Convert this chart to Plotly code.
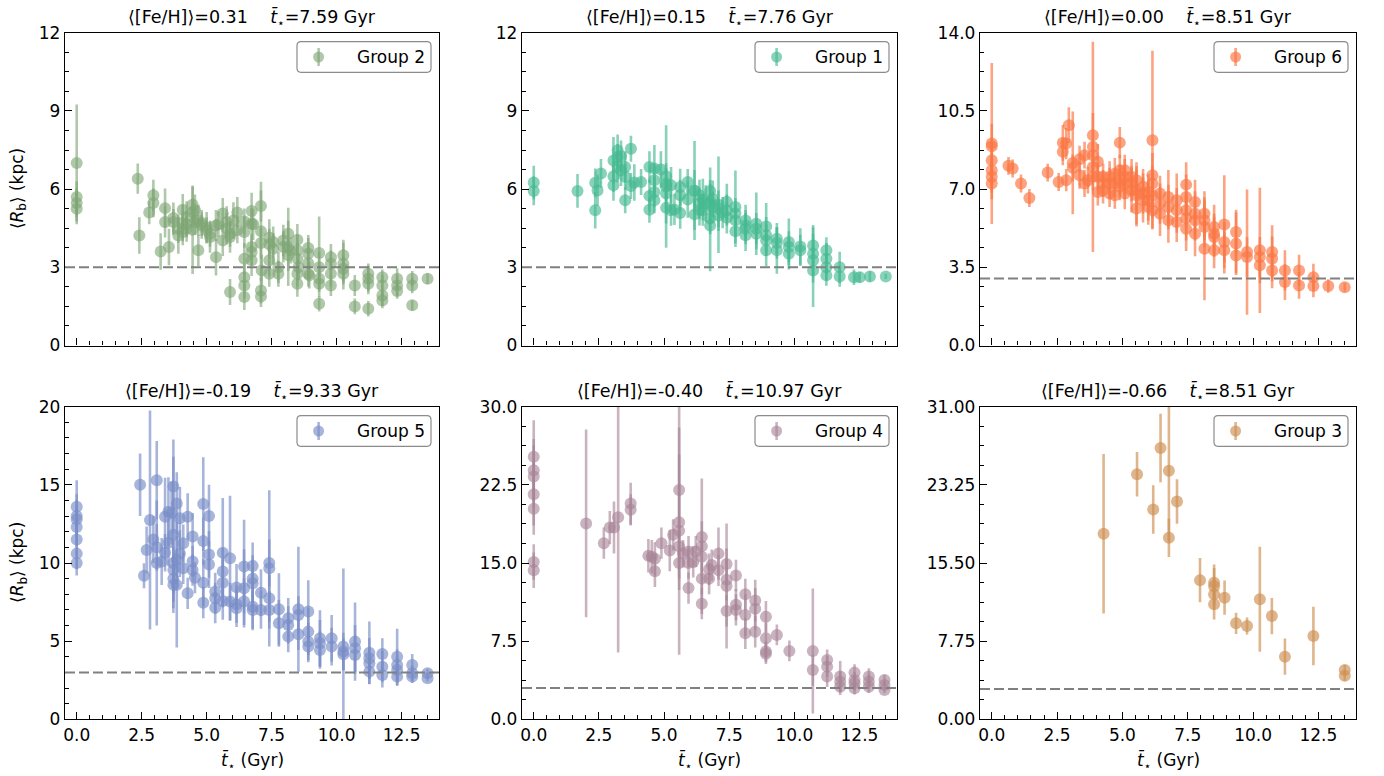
import plotly.graph_objects as go

# ---------------- data: mean age (Gyr), <R_b> (kpc), uncertainty ----------------
g2_t = [0.00, 0.00, 0.00, 0.00, 2.35, 2.41, 2.79, 2.95, 2.95, 3.23, 3.40, 3.40, 3.55, 3.72, 3.72,
        3.91, 3.91, 4.08, 4.08, 4.08, 4.23, 4.23, 4.23, 4.46, 4.46, 4.46, 4.55, 4.55, 4.68, 4.68,
        4.81, 4.81, 5.00, 5.00, 5.13, 5.13, 5.36, 5.36, 5.45, 5.62, 5.62, 5.77, 5.77, 5.90, 5.90,
        5.90, 6.03, 6.18, 6.18, 6.45, 6.45, 6.45, 6.45, 6.45, 6.45, 6.73, 6.73, 6.73, 6.73, 6.73,
        6.79, 7.09, 7.09, 7.09, 7.09, 7.09, 7.12, 7.41, 7.41, 7.41, 7.41, 7.56, 7.56, 7.76, 7.76,
        7.95, 7.95, 8.14, 8.14, 8.14, 8.23, 8.49, 8.49, 8.49, 8.49, 8.49, 8.54, 8.91, 8.91, 8.91,
        8.91, 8.95, 9.33, 9.33, 9.33, 9.33, 9.33, 9.78, 9.78, 9.78, 9.78, 10.26, 10.26, 10.26, 10.26,
        10.70, 10.70, 11.22, 11.22, 11.22, 11.22, 11.76, 11.76, 11.76, 11.76, 12.33, 12.33, 12.33,
        12.91, 12.91, 12.91, 13.50]
g2_r = [7.00, 5.70, 5.47, 5.25, 6.40, 4.22, 5.10, 5.76, 5.47, 3.61, 5.27, 4.74, 3.78, 4.89, 4.74,
        4.22, 4.48, 5.21, 4.35, 4.70, 4.93, 4.48, 4.65, 5.40, 4.44, 5.12, 4.74, 5.19, 3.65, 4.80,
        4.70, 4.60, 4.42, 4.52, 4.16, 4.29, 3.39, 4.60, 4.65, 5.06, 4.03, 4.74, 4.48, 2.05, 4.16,
        4.29, 4.80, 5.10, 4.42, 4.76, 4.35, 3.33, 2.62, 2.30, 1.86, 5.16, 4.67, 3.78, 3.59, 3.27,
        4.65, 4.38, 5.35, 3.93, 2.11, 1.88, 2.88, 4.14, 3.88, 3.27, 2.75, 3.97, 3.71, 3.00, 2.75,
        3.78, 4.03, 4.29, 3.78, 3.46, 3.65, 4.06, 3.65, 3.33, 2.75, 2.37, 3.00, 3.74, 3.52, 3.16,
        2.75, 2.69, 3.55, 3.00, 2.56, 2.37, 1.60, 3.39, 3.14, 2.75, 2.30, 3.46, 3.14, 2.94, 2.75,
        2.30, 1.50, 2.75, 2.56, 2.37, 1.41, 2.62, 2.30, 1.92, 1.73, 2.56, 2.30, 2.09,
        2.56, 2.30, 1.54, 2.56]
g2_err = [2.25, 0.60, 0.55, 0.60, 0.58, 0.70, 0.45, 0.60, 0.55, 0.70, 0.75, 0.60, 0.70, 0.60, 0.50,
          0.70, 0.55, 0.60, 0.50, 0.70, 0.60, 0.50, 0.50, 0.70, 1.70, 0.50, 0.50, 0.60, 0.60, 0.60,
          0.50, 0.50, 0.50, 0.60, 0.60, 0.50, 0.70, 0.60, 0.50, 0.60, 0.60, 0.60, 0.60, 0.50, 0.60,
          0.50, 0.70, 0.60, 0.50, 0.50, 0.60, 0.60, 0.50, 0.50, 0.50, 0.70, 0.60, 0.50, 0.50, 0.60,
          0.60, 1.90, 0.60, 0.60, 0.50, 0.40, 0.60, 0.70, 0.60, 0.60, 0.50, 0.60, 0.60, 0.60, 0.50,
          0.60, 0.60, 0.50, 1.50, 0.60, 0.50, 0.60, 0.60, 0.60, 0.50, 0.50, 0.50, 0.50, 0.60, 0.60,
          0.50, 0.50, 1.40, 0.60, 0.50, 0.50, 0.30, 0.50, 0.50, 0.50, 0.40, 0.60, 0.80, 0.50, 0.60,
          0.40, 0.30, 0.40, 0.50, 0.40, 0.30, 0.30, 0.40, 0.40, 0.30, 0.40, 0.40, 0.30,
          0.30, 0.30, 0.20, 0.20]

g1_t = [0.00, 0.00, 1.68, 2.36, 2.36, 2.45, 2.58, 3.06, 3.06, 3.06, 3.22, 3.22, 3.22, 3.35, 3.35,
        3.51, 3.51, 3.51, 3.73, 3.73, 3.86, 4.12, 4.44, 4.44, 4.44, 4.63, 4.63, 4.63, 4.63, 4.88,
        5.08, 5.08, 5.08, 5.08, 5.08, 5.27, 5.27, 5.40, 5.62, 5.62, 5.62, 5.91, 6.17, 6.17, 6.17,
        6.36, 6.36, 6.49, 6.49, 6.77, 6.77, 6.77, 6.77, 6.87, 6.87, 7.09, 7.09, 7.41, 7.41, 7.74,
        7.74, 7.74, 7.74, 8.13, 8.13, 8.13, 8.54, 8.54, 8.54, 8.92, 8.92, 8.92, 8.92, 9.33, 9.33,
        9.33, 9.79, 9.79, 9.79, 10.23, 10.23, 10.72, 10.72, 10.72, 10.72, 11.23, 11.23, 11.23, 11.23,
        11.74, 11.74, 12.29, 12.51, 12.90, 13.51,
        5.91, 6.36, 6.60, 7.09, 7.25, 7.41, 8.13]
g1_r = [6.25, 5.93, 5.93, 6.24, 5.19, 5.95, 6.60, 7.10, 6.49, 6.15, 7.49, 6.85, 7.23, 7.26, 6.72,
        6.85, 6.47, 5.57, 7.55, 6.12, 6.25, 6.27, 6.85, 5.74, 5.21, 6.79, 6.34, 5.89, 5.57, 6.75,
        6.49, 6.21, 5.83, 6.10, 5.28, 6.15, 5.19, 5.22, 6.08, 5.76, 5.08, 6.27, 5.93, 5.95, 5.03,
        5.76, 5.44, 5.60, 5.19, 5.93, 5.51, 4.87, 4.60, 5.63, 5.31, 5.40, 4.99, 5.51, 5.19, 5.31,
        5.06, 4.80, 4.38, 4.80, 4.48, 4.23, 4.67, 4.48, 4.29, 4.57, 4.23, 4.03, 3.65, 4.10, 3.93,
        3.65, 3.97, 3.78, 3.52, 3.80, 3.65, 3.84, 3.52, 3.27, 2.88, 3.65, 3.33, 3.00, 2.69,
        3.00, 2.65, 2.62, 2.62, 2.65, 2.65,
        5.60, 5.20, 5.45, 5.25, 5.10, 4.90, 4.60]
g1_err = [0.65, 0.55, 0.65, 0.55, 0.70, 0.60, 0.55, 0.90, 0.60, 0.60, 0.60, 0.60, 0.50, 0.60, 0.60,
          0.60, 0.50, 0.50, 0.50, 0.50, 0.70, 0.50, 0.60, 0.60, 0.50, 0.90, 0.60, 0.60, 0.50, 0.70,
          0.50, 0.60, 0.60, 2.35, 0.60, 0.70, 0.60, 0.60, 0.70, 0.60, 0.60, 0.50, 0.80, 1.90, 0.60,
          0.60, 0.60, 0.80, 0.60, 0.90, 0.70, 0.60, 1.75, 0.70, 0.60, 1.85, 0.60, 0.70, 0.60, 1.40,
          0.60, 0.60, 0.60, 0.60, 0.60, 0.60, 1.20, 0.60, 0.60, 0.90, 0.70, 0.60, 0.60, 0.60, 0.60,
          0.90, 0.90, 0.60, 0.60, 0.70, 0.60, 0.70, 1.10, 0.60, 1.40, 0.50, 0.60, 0.50, 0.40,
          0.60, 0.40, 0.30, 0.20, 0.20, 0.10,
          0.70, 0.60, 0.70, 0.70, 0.60, 0.60, 0.60]

g6_t = [0.00, 0.00, 0.00, 0.00, 0.00, 0.00, 0.64, 0.80, 1.12, 1.44, 2.14, 2.56, 2.72, 2.72, 2.85,
        2.85, 2.95, 3.10, 3.10, 3.36, 3.36, 3.55, 3.55, 3.68, 3.87, 3.87, 3.87, 3.87, 3.87, 4.06,
        4.06, 4.26, 4.26, 4.51, 4.51, 4.71, 4.71, 4.90, 4.90, 4.90, 5.09, 5.09, 5.09, 5.35, 5.35,
        5.54, 5.54, 5.54, 5.79, 5.79, 5.99, 5.99, 6.15, 6.15, 6.15, 6.15, 6.44, 6.44, 6.76, 6.76,
        7.08, 7.08, 7.44, 7.44, 7.44, 7.44, 7.78, 7.78, 7.78, 8.14, 8.14, 8.14, 8.51, 8.51, 8.51,
        8.90, 8.90, 8.90, 9.35, 9.35, 9.35, 9.77, 9.77, 10.26, 10.26, 10.26, 10.73, 10.73, 10.73,
        11.22, 11.22, 11.76, 11.76, 12.31, 12.31, 12.88, 13.51,
        4.06, 4.26, 4.51, 4.71, 4.90, 5.09, 5.35, 5.54, 5.79, 5.99, 6.15, 6.44, 6.76, 7.08,
        7.44, 7.78, 8.14, 8.51]
g6_r = [9.04, 8.92, 8.29, 7.84, 7.55, 7.25, 8.04, 7.92, 7.25, 6.60, 7.74, 7.32, 9.07, 8.67, 9.04,
        7.40, 9.86, 8.17, 7.95, 8.34, 7.62, 8.52, 7.25, 7.40, 9.41, 8.89, 8.52, 7.99, 7.55, 8.22,
        6.87, 7.55, 6.95, 7.55, 6.80, 7.69, 6.72, 9.08, 7.84, 7.10, 7.84, 7.25, 6.80, 7.55, 6.95,
        7.40, 6.72, 6.13, 7.10, 6.50, 6.87, 6.20, 9.19, 7.62, 7.25, 6.05, 6.80, 5.90, 6.65, 5.60,
        6.50, 5.53, 7.20, 6.65, 6.05, 5.23, 6.42, 5.60, 5.00, 5.90, 5.30, 4.33, 5.30, 4.86, 4.26,
        5.42, 4.63, 4.26, 5.08, 4.56, 4.03, 4.18, 3.96, 4.26, 3.96, 3.59, 4.18, 3.88, 3.36,
        3.36, 2.84, 3.36, 2.69, 3.06, 2.66, 2.66, 2.61,
        7.55, 7.25, 7.25, 7.25, 7.40, 7.55, 7.25, 6.95, 6.80, 6.50, 6.72, 6.35, 6.20, 6.05,
        5.70, 5.90, 5.60, 5.00]
g6_err = [3.60, 1.00, 0.80, 0.70, 0.70, 0.70, 0.40, 0.40, 0.40, 0.40, 0.40, 0.40, 0.80, 0.60, 0.70,
          0.50, 0.80, 2.30, 0.60, 0.60, 0.60, 0.60, 0.60, 0.60, 1.00, 4.70, 0.60, 0.70, 0.60, 0.80,
          0.60, 0.60, 0.60, 0.70, 0.60, 0.70, 0.60, 0.70, 0.70, 0.60, 0.70, 0.70, 0.70, 0.80, 1.00,
          0.80, 1.30, 0.80, 0.80, 1.00, 0.80, 0.80, 4.00, 1.00, 0.80, 0.80, 0.80, 1.00, 1.20, 1.00,
          1.20, 0.90, 1.00, 1.00, 0.80, 1.00, 1.00, 0.90, 1.00, 1.00, 0.90, 2.30, 1.00, 0.90, 0.80,
          2.20, 0.90, 0.80, 1.00, 1.40, 0.80, 2.80, 0.90, 2.80, 0.90, 0.80, 1.20, 1.00, 0.80,
          0.90, 0.80, 0.70, 0.60, 0.60, 0.50, 0.30, 0.20,
          0.60, 0.60, 0.70, 0.60, 0.70, 0.80, 0.80, 0.90, 0.90, 0.90, 1.00, 0.90, 1.00, 1.00,
          1.00, 1.00, 0.90, 0.90]

g5_t = [0.00, 0.00, 0.00, 0.00, 0.00, 0.00, 0.00, 2.44, 2.59, 2.69, 2.82, 2.95, 3.08, 3.08, 3.08,
        3.27, 3.40, 3.40, 3.53, 3.53, 3.65, 3.72, 3.72, 3.72, 3.72, 3.72, 3.72, 3.85, 3.85, 3.85,
        3.97, 3.97, 4.10, 4.10, 4.27, 4.27, 4.46, 4.46, 4.46, 4.55, 4.87, 4.87, 4.87, 4.87, 5.09,
        5.09, 5.09, 5.33, 5.33, 5.33, 5.62, 5.62, 5.62, 5.62, 5.90, 5.90, 6.15, 6.15, 6.15, 6.44,
        6.44, 6.44, 6.77, 6.77, 6.77, 6.77, 6.77, 7.09, 7.09, 7.41, 7.41, 7.41, 7.41, 7.78, 7.78,
        8.14, 8.14, 8.14, 8.53, 8.53, 8.53, 8.91, 8.91, 8.91, 8.91, 9.36, 9.36, 9.36, 9.81, 9.81,
        10.26, 10.26, 10.26, 10.71, 10.71, 10.71, 11.26, 11.26, 11.26, 11.26, 11.76, 11.76, 11.76,
        12.33, 12.33, 12.33, 12.33, 12.91, 12.91, 12.91, 13.50, 13.50]
g5_r = [13.60, 13.00, 12.80, 12.30, 11.50, 10.60, 10.00, 15.00, 9.19, 10.83, 12.75, 11.50, 15.30, 11.00, 10.00,
        10.10, 12.96, 10.66, 13.28, 11.30, 13.20, 14.90, 11.80, 10.00, 9.55, 9.00, 8.60, 13.80, 10.20, 8.60,
        12.86, 10.60, 11.26, 9.66, 12.96, 8.06, 11.70, 10.10, 9.55, 9.06, 13.77, 11.40, 8.74, 7.46, 13.00,
        10.55, 9.90, 8.17, 7.74, 7.14, 10.66, 9.45, 8.74, 7.57, 10.30, 7.53, 8.44, 7.36, 7.10, 9.77,
        8.38, 7.53, 9.81, 9.00, 8.70, 7.20, 7.00, 8.10, 7.00, 10.00, 9.66, 7.74, 7.00, 7.04, 6.14,
        6.46, 6.03, 5.29, 7.04, 6.67, 5.44, 6.89, 5.61, 4.97, 4.65, 5.18, 4.86, 4.43, 5.18, 4.65,
        4.65, 4.33, 4.16, 4.97, 4.54, 4.12, 4.26, 3.90, 3.58, 3.05, 4.18, 3.37, 2.84,
        4.00, 3.48, 3.16, 2.73, 3.48, 2.94, 2.73, 2.94, 2.62]
g5_err = [1.70, 1.40, 1.20, 1.20, 1.00, 1.00, 0.80, 2.00, 0.80, 1.50, 7.00, 1.50, 2.50, 1.50, 4.00,
          1.50, 2.50, 1.20, 2.20, 1.50, 2.00, 3.00, 5.00, 1.50, 1.50, 1.50, 1.50, 2.00, 1.50, 4.00,
          2.00, 1.50, 1.20, 1.00, 1.50, 1.00, 1.50, 1.00, 1.00, 1.00, 3.00, 1.50, 1.50, 1.00, 2.00,
          1.50, 1.50, 1.20, 1.00, 1.00, 3.50, 1.50, 1.50, 1.20, 4.00, 1.20, 1.50, 1.20, 1.20, 3.00,
          2.50, 1.50, 1.50, 1.50, 1.50, 1.50, 1.20, 1.50, 1.20, 1.50, 5.00, 1.50, 1.20, 2.30, 1.50,
          1.30, 1.20, 1.00, 4.00, 1.20, 1.00, 2.00, 1.50, 1.20, 1.00, 1.80, 1.50, 1.20, 1.50, 1.20,
          5.00, 1.20, 1.00, 2.50, 1.50, 1.20, 2.00, 1.30, 1.00, 0.80, 1.00, 1.00, 0.80,
          1.80, 1.00, 0.80, 0.60, 0.70, 0.50, 0.40, 0.30, 0.20]

g4_t = [0.00, 0.00, 0.00, 0.00, 0.00, 0.00, 0.00, 2.01, 2.69, 2.92, 3.08, 3.24, 3.72, 3.72, 4.40,
        4.53, 4.65, 4.65, 4.90, 5.22, 5.35, 5.58, 5.58, 5.58, 5.58, 5.58, 5.73, 5.94, 5.94, 5.94,
        6.12, 6.22, 6.45, 6.45, 6.45, 6.45, 6.45, 6.73, 6.73, 6.83, 7.09, 7.09, 7.40, 7.40, 7.40,
        7.40, 7.76, 7.76, 7.76, 8.12, 8.12, 8.12, 8.50, 8.50, 8.50, 8.91, 8.91, 8.91, 8.91, 9.33,
        9.81, 10.71, 10.71, 11.26, 11.26, 11.26, 11.76, 11.76, 11.76, 12.31, 12.31, 12.31, 12.31,
        12.86, 12.86, 12.86, 13.46, 13.46, 13.46]
g4_r = [25.2, 23.9, 23.3, 21.6, 20.2, 15.1, 14.3, 18.8, 16.9, 18.4, 18.4, 19.4, 20.7, 20.1, 15.7,
        15.6, 15.4, 14.2, 16.9, 16.2, 17.7, 22.0, 18.9, 18.1, 16.6, 15.0, 15.9, 12.6, 16.1, 15.0,
        15.1, 16.1, 17.5, 16.6, 15.6, 13.5, 11.1, 14.4, 13.5, 14.8, 15.9, 14.3, 14.9, 13.4, 12.8,
        10.4, 13.8, 11.0, 10.5, 12.0, 10.0, 8.25, 11.4, 10.6, 8.4, 9.85, 7.77, 6.5, 6.3, 8.1,
        6.56, 6.56, 4.73, 5.69, 5.05, 4.10, 4.10, 3.61, 3.13, 4.48, 3.77, 3.45, 2.97,
        4.10, 3.61, 3.13, 3.77, 3.29, 2.81]
g4_err = [3.5, 3.0, 3.0, 3.0, 2.5, 1.7, 1.7, 9.0, 1.5, 1.6, 2.5, 13.0, 2.0, 1.5, 1.6,
          1.6, 1.6, 1.5, 1.5, 2.0, 1.5, 6.0, 6.5, 11.9, 1.5, 1.5, 1.3, 1.5, 1.5, 1.5,
          1.5, 1.5, 1.5, 6.5, 1.5, 1.5, 1.5, 1.5, 1.5, 1.5, 2.5, 1.5, 1.5, 2.0, 6.0,
          1.5, 1.5, 1.5, 1.5, 1.5, 2.0, 1.5, 2.0, 2.0, 1.5, 1.5, 1.5, 1.0, 1.0, 1.0,
          1.0, 6.0, 1.5, 1.0, 1.0, 1.0, 1.5, 1.0, 0.8, 0.8, 0.8, 0.7, 0.6,
          0.8, 0.7, 0.6, 0.5, 0.4, 0.3]

g3_t = [4.28, 5.56, 6.18, 6.46, 6.78, 6.78, 7.09, 7.97, 8.51, 8.51, 8.51, 8.51, 8.91, 9.35, 9.77,
        10.26, 10.72, 11.22, 12.31, 13.51, 13.51]
g3_r = [18.4, 24.3, 20.8, 26.9, 24.65, 18.0, 21.6, 13.8, 13.55, 13.2, 12.4, 11.4, 12.06, 9.52, 9.25,
        11.9, 10.24, 6.21, 8.26, 4.89, 4.33]
g3_err = [7.9, 2.2, 2.4, 3.4, 7.0, 1.9, 2.2, 2.2, 1.8, 1.8, 1.5, 1.5, 1.7, 1.05, 0.85,
          5.2, 1.8, 1.8, 2.9, 0.5, 0.5]

# per-panel labels: group name, mean [Fe/H], mean age
group_names = ["Group 2", "Group 1", "Group 6", "Group 5", "Group 4", "Group 3"]
mean_feh = ["0.31", "0.15", "0.00", "-0.19", "-0.40", "-0.66"]
mean_age = ["7.59", "7.76", "8.51", "9.33", "10.97", "8.51"]
y_top = [12, 12, 14, 20, 30, 31]
y_step = [3, 3, 3.5, 5, 7.5, 7.75]
disk_scale = 3.0

# ---------------- styling ----------------
FONT = "DejaVu Sans"
FS = 17
colors = [
    (128, 166, 118, 0.62),   # sage
    (70, 186, 146, 0.65),    # teal
    (250, 120, 70, 0.68),    # orange
    (122, 142, 200, 0.65),   # blue
    (168, 132, 152, 0.62),   # mauve
    (206, 146, 86, 0.68),    # tan
]
y_minor_div = [4, 4, 4, 5, 4, 4]
y_fmt = ["d", "d", ".1f", "d", ".1f", ".2f"]

W, H = 1384, 776
col_px = [(65, 439), (522, 897), (980, 1356)]
row_px = [(32.7, 345.5), (406.7, 719.3)]


def px(x):
    return x / W


def py(y):
    return 1 - y / H


def rounded_box(x0, y0, x1, y1, r=4):
    """SVG path (paper coords) for a rounded rectangle given in pixels."""
    pts = [
        f"M {px(x0 + r)},{py(y0)}", f"L {px(x1 - r)},{py(y0)}",
        f"Q {px(x1)},{py(y0)} {px(x1)},{py(y0 + r)}", f"L {px(x1)},{py(y1 - r)}",
        f"Q {px(x1)},{py(y1)} {px(x1 - r)},{py(y1)}", f"L {px(x0 + r)},{py(y1)}",
        f"Q {px(x0)},{py(y1)} {px(x0)},{py(y1 - r)}", f"L {px(x0)},{py(y0 + r)}",
        f"Q {px(x0)},{py(y0)} {px(x0 + r)},{py(y0)}", "Z",
    ]
    return " ".join(pts)


series = [(g2_t, g2_r, g2_err), (g1_t, g1_r, g1_err), (g6_t, g6_r, g6_err),
          (g5_t, g5_r, g5_err), (g4_t, g4_r, g4_err), (g3_t, g3_r, g3_err)]

fig = go.Figure()
layout = dict(
    width=W, height=H, margin=dict(l=0, r=0, t=0, b=0, autoexpand=False),
    paper_bgcolor="white", plot_bgcolor="white", showlegend=False,
    font=dict(family=FONT, size=FS, color="black"),
)
annotations = []
shapes = []

for i in range(6):
    row, col = divmod(i, 3)
    x0p, x1p = col_px[col]
    y0p, y1p = row_px[row]
    sfx = "" if i == 0 else str(i + 1)
    xa, ya = "x" + sfx, "y" + sfx
    r, g, b, a = colors[i]
    rgba = f"rgba({r},{g},{b},{a})"
    t, rb, err = series[i]

    fig.add_trace(go.Scatter(
        x=t, y=rb, mode="markers", name=group_names[i],
        xaxis=xa, yaxis=ya,
        marker=dict(size=12, color=rgba, line=dict(width=0)),
        error_y=dict(type="data", array=err, color=rgba, thickness=2.6, width=0),
    ))

    layout["xaxis" + sfx] = dict(
        domain=[x0p / W, x1p / W], anchor=ya, range=[-0.45, 13.94], automargin=False,
        showline=True, linecolor="black", linewidth=1.3, mirror=True,
        ticks="inside", ticklen=7, tickwidth=1.2, tickcolor="black",
        tick0=0, dtick=2.5, tickformat=".1f",
        minor=dict(ticks="inside", ticklen=4, tickwidth=1, tickcolor="black", dtick=0.5, tick0=0),
        showgrid=False, zeroline=False, showticklabels=(row == 1),
        tickfont=dict(family=FONT, size=FS, color="black"),
    )
    layout["yaxis" + sfx] = dict(
        domain=[1 - y1p / H, 1 - y0p / H], anchor=xa, range=[0, y_top[i]], automargin=False,
        showline=True, linecolor="black", linewidth=1.3, mirror=True,
        ticks="inside", ticklen=7, tickwidth=1.2, tickcolor="black",
        tick0=0, dtick=y_step[i], tickformat=y_fmt[i],
        minor=dict(ticks="inside", ticklen=4, tickwidth=1, tickcolor="black",
                   dtick=y_step[i] / y_minor_div[i], tick0=0),
        showgrid=False, zeroline=False,
        tickfont=dict(family=FONT, size=FS, color="black"),
    )

    # reference line at R_b = 3 kpc
    shapes.append(dict(
        type="line", xref=xa + " domain", yref=ya, x0=0, x1=1, y0=disk_scale, y1=disk_scale,
        line=dict(color="rgb(128,128,128)", width=2, dash="10px,4px"), layer="above",
    ))

    # legend box in the upper-right corner of each panel
    bx0, bx1 = x1p - 142, x1p - 8
    by0, by1 = y0p + 9, y0p + 39.6
    cy = (by0 + by1) / 2
    cx = bx0 + 21.6
    shapes.append(dict(
        type="path", xref="paper", yref="paper", path=rounded_box(bx0, by0, bx1, by1),
        fillcolor="white", line=dict(color="rgb(140,140,140)", width=1.2), layer="above",
    ))
    shapes.append(dict(
        type="line", xref="paper", yref="paper", x0=px(cx), x1=px(cx), y0=py(cy - 9), y1=py(cy + 9),
        line=dict(color=rgba, width=2.6), layer="above",
    ))
    shapes.append(dict(
        type="circle", xref="paper", yref="paper",
        x0=px(cx - 5.5), x1=px(cx + 5.5), y0=py(cy + 5.5), y1=py(cy - 5.5),
        fillcolor=rgba, line=dict(width=0), layer="above",
    ))
    annotations.append(dict(
        text=group_names[i], xref="paper", yref="paper", x=px(bx0 + 57.6), y=py(cy),
        xanchor="left", yanchor="middle", showarrow=False,
        font=dict(family=FONT, size=FS, color="black"),
    ))

    annotations.append(dict(
        text=f"⟨[Fe/H]⟩={mean_feh[i]}\u00a0\u00a0\u00a0\u00a0<i>t\u0304</i><sub>⋆</sub>={mean_age[i]} Gyr",
        xref="paper", yref="paper", x=(x0p + x1p) / 2 / W, y=1 - (y0p - 15) / H,
        xanchor="center", yanchor="middle", showarrow=False,
        font=dict(family=FONT, size=17.5, color="black"),
    ))
    if col == 0:
        annotations.append(dict(
            text="⟨<i>R</i><sub>b</sub>⟩ (kpc)", textangle=-90,
            xref="paper", yref="paper", x=18 / W, y=1 - (y0p + y1p) / 2 / H,
            xanchor="center", yanchor="middle", showarrow=False,
            font=dict(family=FONT, size=FS, color="black"),
        ))
    if row == 1:
        annotations.append(dict(
            text="<i>t\u0304</i><sub>⋆</sub> (Gyr)",
            xref="paper", yref="paper", x=(x0p + x1p) / 2 / W, y=1 - 761 / H,
            xanchor="center", yanchor="middle", showarrow=False,
            font=dict(family=FONT, size=FS, color="black"),
        ))

layout["annotations"] = annotations
layout["shapes"] = shapes
fig.update_layout(**layout)
fig.write_html("out.html")
